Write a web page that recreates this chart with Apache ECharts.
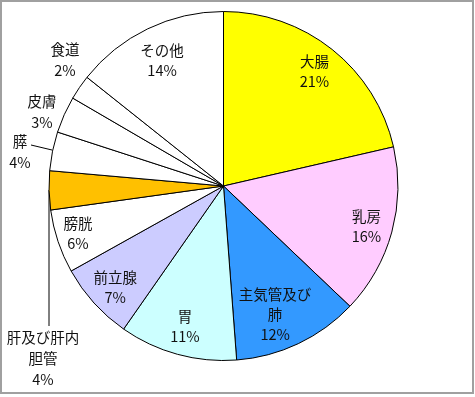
<!DOCTYPE html>
<html><head><meta charset="utf-8">
<script src="https://cdn.jsdelivr.net/npm/echarts@6/dist/echarts.min.js"></script>
<style>html,body{margin:0;padding:0;background:#fff}#c{width:475px;height:397px}</style>
</head><body><div id="c"></div>
<script>
const categories = ['大腸','乳房','主気管及び肺','胃','前立腺','膀胱','肝及び肝内胆管','膵','皮膚','食道','その他'];
const displayNames = ['大腸','乳房','主気管及び\n肺','胃','前立腺','膀胱','肝及び肝内\n胆管','膵','皮膚','食道','その他'];
const values = [21.4,15.7,11.7,10.9,7.2,5.9,3.6,3.6,3.4,2.3,14.3];
const colors = ['#FFFF00','#FFCCFF','#3399FF','#CCFFFF','#CCCCFF','#FFFFFF','#FFC000','#FFFFFF','#FFFFFF','#FFFFFF','#FFFFFF'];
const outside = ['肝及び肝内胆管','膵','皮膚','食道'];

const FONT = '"Noto Sans CJK JP", sans-serif';
const FS = 14.5;
const chart = echarts.init(document.getElementById('c'));
const cx = 223.5, cy = 186, R = 174.5;

const fmt = p => displayNames[p.dataIndex] + '\n' + Math.round(p.percent) + '%';

const outerPos = {
  '食道': {x: 65, y: 60},
  '皮膚': {x: 42, y: 112},
  '膵': {x: 20, y: 152, line: [[31,145],[52,150],[52,150]]},
  '肝及び肝内胆管': {x: 43, y: 358, line: [[49,326],[49,200],[49,190]]}
};
const insideOffset = {
  '主気管及び肺': [-11, -4],
  '膀胱': [-7, 1],
  '前立腺': [0, 4],
  'その他': [2, 6],
  '乳房': [2, 2]
};

chart.setOption({
  animation: false,
  graphic: [{type:'rect', shape:{x:1,y:1,width:472,height:392}, style:{fill:'none', stroke:'#a0a0a0', lineWidth:2}, z:100}],
  series: [
    {
      type: 'pie', center: [cx, cy], radius: R, startAngle: 90, clockwise: true,
      avoidLabelOverlap: false,
      itemStyle: {borderColor: '#000', borderWidth: 1},
      label: {show: true, position: 'outside', formatter: fmt, fontFamily: FONT, fontSize: FS, lineHeight: 21, color: '#111', align: 'center'},
      labelLine: {show: true, lineStyle: {color: '#000', width: 1}},
      labelLayout: function (p) {
        const name = categories[p.dataIndex];
        const o = outerPos[name];
        if (!o) return {};
        const r = {x: o.x, y: o.y, align: 'center', verticalAlign: 'middle'};
        if (o.line) r.labelLinePoints = o.line;
        return r;
      },
      data: categories.map((n, i) => ({
        name: n, value: values[i],
        itemStyle: {color: colors[i]},
        label: {show: outside.includes(n)},
        labelLine: {show: n === '膵' || n === '肝及び肝内胆管'}
      }))
    },
    {
      type: 'pie', center: [cx, cy], radius: [R * 0.64, R], startAngle: 90, clockwise: true,
      silent: true, avoidLabelOverlap: false, z: 3,
      itemStyle: {color: 'rgba(0,0,0,0)', borderWidth: 0},
      label: {show: true, position: 'inside', formatter: fmt, fontFamily: FONT, fontSize: FS, lineHeight: 20, color: '#111', align: 'center'},
      labelLine: {show: false},
      data: categories.map((n, i) => ({
        name: n, value: values[i],
        label: {show: !outside.includes(n), offset: insideOffset[n] || [0, 0]}
      }))
    }
  ]
});
</script></body></html>
